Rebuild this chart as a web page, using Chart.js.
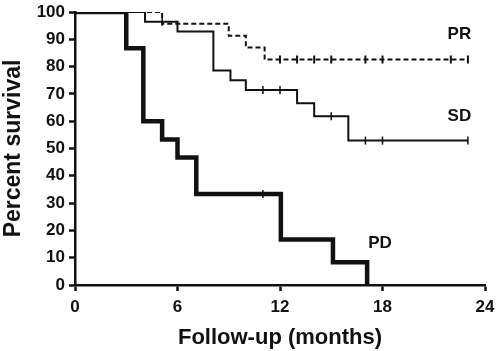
<!DOCTYPE html>
<html>
<head>
<meta charset="utf-8">
<script src="https://cdn.jsdelivr.net/npm/chart.js@4"></script>
<style>
  html, body { margin: 0; padding: 0; background: #fff; }
  #wrap { width: 497px; height: 351px; }
</style>
</head>
<body>
<div id="wrap"><canvas id="km" width="497" height="351"></canvas></div>
<script>
// Kaplan-Meier steps (months, percent)
const prTimes = [0, 5.1, 9.0, 10.0, 11.1, 23.0];
const prSurv  = [100, 95.7, 91.3, 87.0, 82.6, 82.6];
const prCensorTimes = [12, 13, 14, 15, 17, 18, 22, 23];
const prCensorSurv  = [82.6, 82.6, 82.6, 82.6, 82.6, 82.6, 82.6, 82.6];

const sdTimes = [0, 4.1, 6.0, 8.1, 9.1, 10.0, 13.0, 14.0, 16.0, 23.0];
const sdSurv  = [100, 96.4, 92.9, 78.6, 75.0, 71.4, 66.6, 61.8, 52.9, 52.9];
const sdCensorTimes = [5.1, 11, 12, 15, 17, 18, 23];
const sdCensorSurv  = [96.4, 71.4, 71.4, 61.8, 52.9, 52.9, 52.9];

const pdTimes = [0, 3.0, 4.0, 5.1, 6.0, 7.1, 12.05, 15.1, 17.1];
const pdSurv  = [100, 86.7, 60.0, 53.3, 46.7, 33.3, 16.7, 8.3, 0];
const pdCensorTimes = [11];
const pdCensorSurv  = [33.3];

const groupNames = ['PR', 'SD', 'PD'];
const groupLabelX = [22.5, 22.5, 17.85];
const groupLabelY = [91.9, 61.7, 15.2];

const xTicks = [0, 6, 12, 18, 24];
const yTicks = [0, 10, 20, 30, 40, 50, 60, 70, 80, 90, 100];

const toPts = (xs, ys) => xs.map((x, i) => ({ x: x, y: ys[i] }));

function curve(xs, ys, width, dash) {
    return {
        type: 'line',
        data: toPts(xs, ys),
        stepped: true,
        borderColor: '#111',
        borderWidth: width,
        borderDash: dash,
        pointRadius: 0,
        fill: false
    };
}

function censor(xs, ys, width) {
    return {
        type: 'scatter',
        data: toPts(xs, ys),
        pointStyle: 'line',
        rotation: 90,
        pointRadius: 4,
        borderColor: '#111',
        borderWidth: width,
        pointHoverRadius: 4
    };
}

// group names next to the curves
const groupText = {
    id: 'groupText',
    afterDatasetsDraw(chart) {
        const ctx = chart.ctx;
        const xs = chart.scales.x, ys = chart.scales.y;
        ctx.save();
        ctx.fillStyle = '#111';
        ctx.font = 'bold 17px "Liberation Sans", Arial, sans-serif';
        ctx.textAlign = 'center';
        ctx.textBaseline = 'middle';
        groupNames.forEach((name, i) => {
            ctx.fillText(name, xs.getPixelForValue(groupLabelX[i]), ys.getPixelForValue(groupLabelY[i]));
        });
        ctx.restore();
    }
};

const tickFont = { family: '"Liberation Sans", Arial, sans-serif', size: 17, weight: 'bold' };
const xTitleFont = { family: '"Liberation Sans", Arial, sans-serif', size: 22, weight: 'bold' };
const yTitleFont = { family: '"Liberation Sans", Arial, sans-serif', size: 23, weight: 'bold' };

new Chart(document.getElementById('km').getContext('2d'), {
    data: {
        datasets: [
            curve(pdTimes, pdSurv, 4.5, []),
            censor(pdCensorTimes, pdCensorSurv, 1.5),
            curve(sdTimes, sdSurv, 2, []),
            censor(sdCensorTimes, sdCensorSurv, 1.5),
            curve(prTimes, prSurv, 2, [5, 3]),
            censor(prCensorTimes, prCensorSurv, 2)
        ]
    },
    options: {
        responsive: false,
        animation: false,
        layout: { padding: { top: 12, right: 12, left: 0, bottom: 0 } },
        plugins: { legend: { display: false }, tooltip: { enabled: false } },
        scales: {
            x: {
                type: 'linear',
                min: 0,
                max: 24,
                afterBuildTicks: (axis) => { axis.ticks = xTicks.map(v => ({ value: v })); },
                afterFit: (axis) => { axis.height = 66; axis.paddingLeft = 0; axis.paddingRight = 0; },
                border: { display: true, color: '#111', width: 2.5 },
                grid: { drawOnChartArea: false, tickLength: 6, tickWidth: 2.5, tickColor: '#111' },
                ticks: { color: '#111', font: tickFont, padding: 6, maxRotation: 0 },
                title: { display: true, text: 'Follow-up (months)', color: '#111', font: xTitleFont, padding: { top: 4, bottom: 0 } }
            },
            y: {
                type: 'linear',
                min: 0,
                max: 100,
                afterBuildTicks: (axis) => { axis.ticks = yTicks.map(v => ({ value: v })); },
                afterFit: (axis) => { axis.width = 75; axis.paddingTop = 0; axis.paddingBottom = 0; },
                border: { display: true, color: '#111', width: 2.5 },
                grid: { drawOnChartArea: false, tickLength: 6, tickWidth: 2.5, tickColor: '#111' },
                ticks: { color: '#111', font: tickFont, padding: 4 },
                title: { display: true, text: 'Percent survival', color: '#111', font: yTitleFont, padding: { top: 0, bottom: 2 } }
            }
        }
    },
    plugins: [groupText]
});
</script>
</body>
</html>
